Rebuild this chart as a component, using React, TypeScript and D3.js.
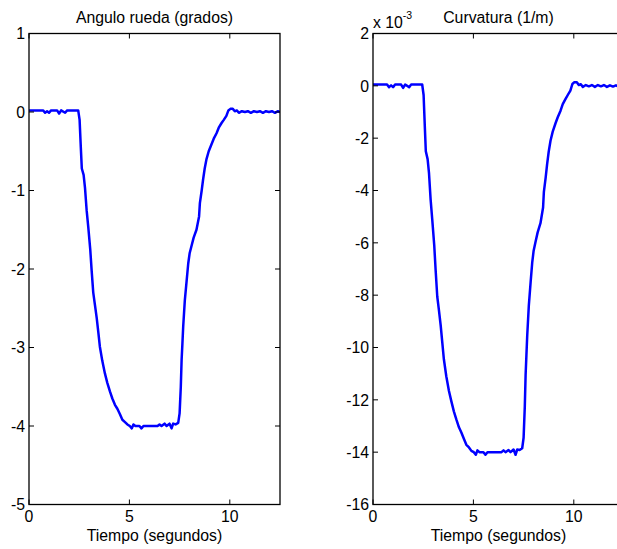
import React from "react";
import * as d3 from "d3";

const time = [
  0, 0.7, 0.8, 0.9, 1.0, 1.1, 1.4, 1.5, 1.6, 1.8, 1.9, 2.45, 2.52, 2.58, 2.63, 2.72, 2.79, 2.87, 2.95, 3.05,
  3.12, 3.2, 3.28, 3.37, 3.45, 3.53, 3.65, 3.78, 3.9, 4.03, 4.15, 4.28, 4.4, 4.53, 4.65, 4.78, 4.9, 5.02, 5.12, 5.2,
  5.3, 5.5, 5.6, 5.7, 6.4, 6.5, 6.6, 6.75, 6.85, 7.0, 7.1, 7.18, 7.3, 7.43, 7.5, 7.56, 7.6, 7.64, 7.68, 7.76,
  7.85, 7.93, 8.0, 8.09, 8.2, 8.34, 8.47, 8.51, 8.6, 8.67, 8.75, 8.84, 8.95, 9.09, 9.2, 9.34, 9.45, 9.59, 9.7, 9.83,
  9.93, 10.03, 10.15, 10.25, 10.35, 10.45, 10.6, 10.75, 10.9, 11.05, 11.2, 11.35, 11.5, 11.65, 11.8, 11.95, 12.1, 12.25, 12.4, 12.5,
];

const angle = [
  0.02, 0.02, -0.01, 0.01, -0.01, 0.02, 0.02, -0.02, 0.02, -0.01, 0.02, 0.02, -0.1, -0.45, -0.72, -0.8, -0.97, -1.25, -1.46, -1.75,
  -2.02, -2.3, -2.45, -2.62, -2.8, -2.99, -3.17, -3.33, -3.45, -3.56, -3.65, -3.73, -3.78, -3.85, -3.92, -3.95, -3.98, -4.0, -4.03, -3.98,
  -4.0, -4.0, -4.03, -4.0, -4.0, -3.98, -4.0, -3.97, -4.0, -3.97, -4.03, -3.97, -3.98, -3.96, -3.84, -3.5, -3.16, -2.95, -2.73, -2.4,
  -2.15, -1.93, -1.8, -1.71, -1.6, -1.5, -1.33, -1.16, -1.0, -0.86, -0.72, -0.6, -0.5, -0.41, -0.34, -0.27, -0.2, -0.14, -0.1, -0.05,
  0.02, 0.04, 0.04, 0.01, 0.02, -0.01, 0.01, 0.0, 0.01, -0.01, 0.01, 0.0, 0.01, -0.01, 0.01, 0.0, 0.01, -0.01, 0.01, 0.0,
];

// curvature in units of 1e-3 1/m
const curvature = [
  0.05, 0.05, -0.05, 0.02, -0.05, 0.05, 0.05, -0.08, 0.05, -0.05, 0.05, 0.05, -0.35, -1.55, -2.5, -2.8, -3.35, -4.35, -5.1, -6.1,
  -7.05, -8.05, -8.55, -9.15, -9.8, -10.45, -11.1, -11.65, -12.05, -12.45, -12.75, -13.05, -13.25, -13.5, -13.72, -13.82, -13.95, -14.0, -14.1, -13.93,
  -14.0, -14.0, -14.1, -14.0, -14.0, -13.93, -14.0, -13.92, -14.0, -13.9, -14.1, -13.9, -13.92, -13.85, -13.45, -12.25, -11.05, -10.3, -9.55, -8.4,
  -7.5, -6.75, -6.3, -5.98, -5.6, -5.25, -4.65, -4.05, -3.5, -3.0, -2.52, -2.1, -1.75, -1.43, -1.2, -0.95, -0.7, -0.5, -0.35, -0.18,
  0.07, 0.14, 0.14, 0.03, 0.06, -0.04, 0.03, -0.02, 0.03, -0.04, 0.03, -0.02, 0.03, -0.04, 0.02, -0.03, 0.02, -0.04, 0.02, 0.0,
];

const xTicks = [0, 5, 10];
const angleTicks = [1, 0, -1, -2, -3, -4, -5];
const curvTicks = [2, 0, -2, -4, -6, -8, -10, -12, -14, -16];

const FONT = "'Liberation Sans', Arial, Helvetica, sans-serif";
const FS = 15.8;
const W = 617;
const H = 549;

type PanelProps = {
  left: number;
  values: number[];
  yDomain: [number, number];
  yTicks: number[];
  title: string;
  exponent?: string;
  id: string;
};

function Panel({ left, values, yDomain, yTicks, title, exponent, id }: PanelProps) {
  const top = 33.5;
  const bottom = 504.5;
  const width = 251;
  const right = left + width;
  const x = d3.scaleLinear().domain([0, 12.5]).range([left, right]);
  const y = d3.scaleLinear().domain(yDomain).range([bottom, top]);
  const pts: [number, number][] = time.map((t, i) => [t, values[i]]);
  const line = d3
    .line<[number, number]>()
    .x((d) => x(d[0]))
    .y((d) => y(d[1]));
  const tl = 5;
  const cx = (left + right) / 2;
  return (
    <g>
      <defs>
        <clipPath id={id}>
          <rect x={left} y={top} width={width} height={bottom - top} />
        </clipPath>
      </defs>
      <path d={line(pts) || ""} fill="none" stroke="#0000ff" strokeWidth={2.5} strokeLinejoin="round" clipPath={`url(#${id})`} />
      <rect x={left} y={top} width={width} height={bottom - top} fill="none" stroke="#000" strokeWidth={1.3} />
      {xTicks.map((t) => (
        <g key={"x" + t}>
          <line x1={x(t)} x2={x(t)} y1={bottom} y2={bottom - tl} stroke="#000" strokeWidth={1} />
          <line x1={x(t)} x2={x(t)} y1={top} y2={top + tl} stroke="#000" strokeWidth={1} />
          <text x={x(t)} y={522} textAnchor="middle" fontSize={FS} fontFamily={FONT} fill="#000">
            {t}
          </text>
        </g>
      ))}
      {yTicks.map((t) => (
        <g key={"y" + t}>
          <line x1={left} x2={left + tl} y1={y(t)} y2={y(t)} stroke="#000" strokeWidth={1} />
          <line x1={right} x2={right - tl} y1={y(t)} y2={y(t)} stroke="#000" strokeWidth={1} />
          <text x={left - 4} y={y(t)} dy="0.36em" textAnchor="end" fontSize={FS} fontFamily={FONT} fill="#000">
            {String(t)}
          </text>
        </g>
      ))}
      <text x={cx} y={23} textAnchor="middle" fontSize={FS} fontFamily={FONT} fill="#000">
        {title}
      </text>
      <text x={cx} y={541} textAnchor="middle" fontSize={FS} fontFamily={FONT} fill="#000">
        Tiempo (segundos)
      </text>
      {exponent && (
        <text x={left} y={28} fontSize={FS} fontFamily={FONT} fill="#000">
          x 10
          <tspan dy={-9} fontSize={10.5}>
            {exponent}
          </tspan>
        </text>
      )}
    </g>
  );
}

export default function App() {
  return (
    <div style={{ position: "absolute", left: 0, top: 0 }}>
      <svg width={W} height={H} style={{ display: "block", background: "#fff" }}>
        <rect width={W} height={H} fill="#fff" />
        <Panel left={29} values={angle} yDomain={[-5, 1]} yTicks={angleTicks} title="Angulo rueda (grados)" id="c1" />
        <Panel
          left={373}
          values={curvature}
          yDomain={[-16, 2]}
          yTicks={curvTicks}
          title="Curvatura (1/m)"
          exponent="-3"
          id="c2"
        />
      </svg>
    </div>
  );
}
